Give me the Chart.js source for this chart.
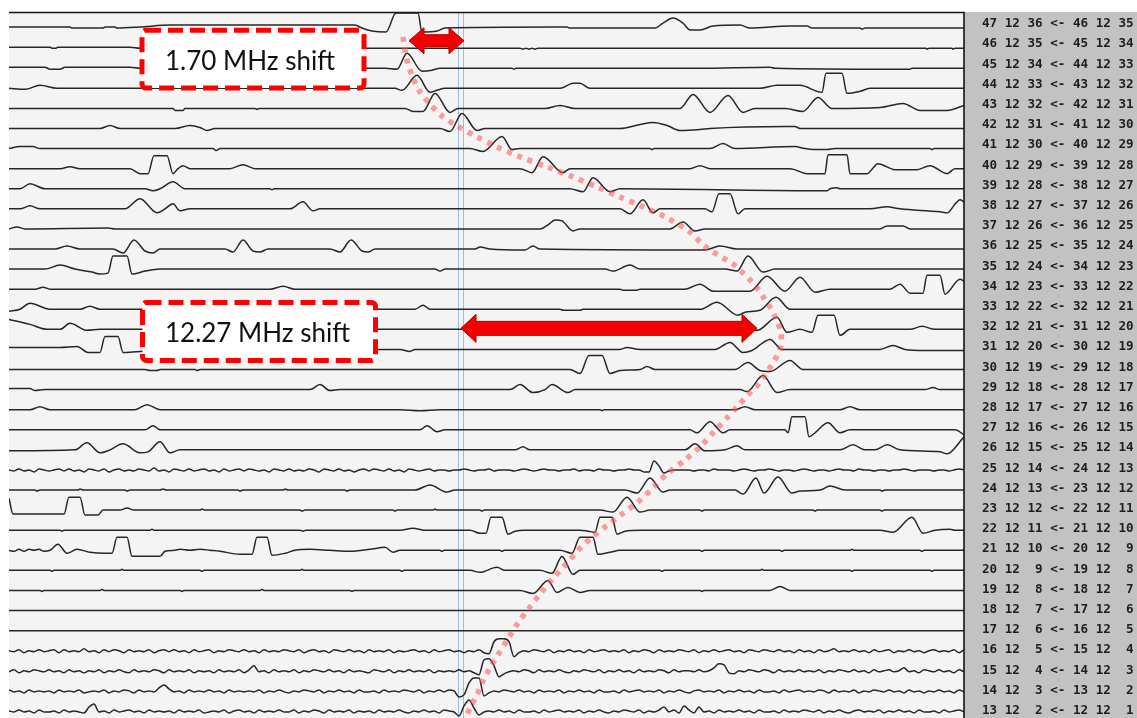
<!DOCTYPE html>
<html lang="en">
<head>
<meta charset="UTF-8">
<title>Channel shift traces</title>
<script src="https://cdn.jsdelivr.net/npm/chart.js"></script>
<style>
  html, body { margin: 0; padding: 0; background: #fff; }
  #traceChart { display: block; }
</style>
</head>
<body>
<canvas id="traceChart" width="1137" height="718"></canvas>
<script>
// channel pair shown at the right of each trace, top to bottom
const channelLabels = [
  '47 12 36 <- 46 12 35', '46 12 35 <- 45 12 34', '45 12 34 <- 44 12 33',
  '44 12 33 <- 43 12 32', '43 12 32 <- 42 12 31', '42 12 31 <- 41 12 30',
  '41 12 30 <- 40 12 29', '40 12 29 <- 39 12 28', '39 12 28 <- 38 12 27',
  '38 12 27 <- 37 12 26', '37 12 26 <- 36 12 25', '36 12 25 <- 35 12 24',
  '35 12 24 <- 34 12 23', '34 12 23 <- 33 12 22', '33 12 22 <- 32 12 21',
  '32 12 21 <- 31 12 20', '31 12 20 <- 30 12 19', '30 12 19 <- 29 12 18',
  '29 12 18 <- 28 12 17', '28 12 17 <- 27 12 16', '27 12 16 <- 26 12 15',
  '26 12 15 <- 25 12 14', '25 12 14 <- 24 12 13', '24 12 13 <- 23 12 12',
  '23 12 12 <- 22 12 11', '22 12 11 <- 21 12 10', '21 12 10 <- 20 12  9',
  '20 12  9 <- 19 12  8', '19 12  8 <- 18 12  7', '18 12  7 <- 17 12  6',
  '17 12  6 <- 16 12  5', '16 12  5 <- 15 12  4', '15 12  4 <- 14 12  3',
  '14 12  3 <- 13 12  2', '13 12  2 <- 12 12  1'
];

// trace knots "bin:amplitude" per channel (null = sampled trace below)
const traceKnots = [
  '9:1 70:1 72:0 103:0 105:1 115:1 117:0 140:1 170:3 355:3 362:0 372:-3 386:-4 396:15 418:15 422:-4 437:-3 445:0 553:1 567:1 570:0 655:0 663:5 673:10 683:5 690:-2 700:-2 713:2 740:3 750:0 790:2 807:2 812:0 860:0 862:-1 865:0 964:0',
  '9:1 50:1 52:0 56:0 58:1 130:1 140:0 520:0 523:-1 526:0 529:-1 532:0 535:-1 538:0 926:0 927:-1 929:0 952:0 953:-1 955:0 964:0',
  '9:1 45:1 50:-1 60:-1 65:1 130:1 140:0 385:0 397:-1 407:15 422:-3 432:-2 440:0 512:0 514:-1 516:0 700:0 770:1 775:0 893:-1 910:-1 912:0 964:0',
  '9:0 25:-1 40:3 57:0 130:0 395:0 402:-2 417:13 430:-4 437:-2 445:0 560:0 573:5 580:5 590:0 760:0 777:3 800:3 822:-4 826:15 842:15 847:-5 860:-3 870:0 964:0',
  '9:0 173:0 175:-2 183:-2 185:0 255:0 257:-1 259:0 405:0 413:-3 423:-3 435:15 450:-4 458:0 545:0 560:3 575:0 680:0 693:14 710:-4 728:13 743:-4 755:0 785:0 803:-3 818:11 832:0 880:1 903:5 920:-2 947:-2 964:3',
  '9:0 100:0 110:3 120:0 175:0 190:3 200:1 207:-2 215:0 440:0 450:-3 462:15 477:-2 485:0 620:0 640:4 653:6 667:3 680:-2 700:-1 710:0 787:2 795:2 800:0 964:0',
  '9:0 20:2 33:2 40:0 213:0 216:-2 220:0 470:0 483:-3 502:12 512:-1 520:0 650:0 652:-1 654:0 710:0 723:5 735:0 795:2 805:0 815:-1 827:-1 835:0 930:0 932:-1 934:0 964:0',
  '9:0 60:0 70:2 80:0 130:0 140:-5 148:-5 154:13 167:13 173:-5 178:0 183:3 190:0 230:0 243:4 255:0 520:0 532:-4 543:12 563:-4 570:0 690:0 700:3 710:0 790:0 807:-5 825:-5 828:14 847:14 850:-5 867:-5 878:5 895:-1 917:-1 930:3 947:-5 955:0 964:0',
  '9:0 20:0 30:5 45:0 145:0 153:-2 160:0 173:7 185:0 270:0 272:-1 274:0 570:0 583:-3 593:11 610:-3 620:0 815:-2 827:-2 830:0 837:1 840:0 964:0',
  '9:0 20:0 30:3 40:0 125:0 140:10 157:-4 165:0 173:5 180:-2 190:0 290:0 303:7 313:-2 320:0 620:0 630:-5 643:9 653:-4 660:0 705:0 712:-3 719:15 730:15 738:-5 745:0 870:0 887:2 900:0 940:-3 947:-4 956:6 960:9 964:7',
  '9:0 17:2 25:0 108:1 115:0 540:0 548:4 555:9 562:8 573:-2 580:0 670:0 683:7 695:-2 705:0 880:0 887:3 903:3 910:0 964:0',
  '9:0 55:0 67:3 80:0 113:0 123:-4 134:9 145:-2 153:-4 160:0 225:0 233:-3 243:9 253:-2 260:-3 268:0 330:0 340:-3 351:9 362:-2 368:-3 375:0 475:0 480:2 490:0 525:-1 533:3 540:0 705:-1 720:3 737:0 964:0',
  '9:0 45:0 60:4 75:0 92:-3 100:-5 108:-4 113:13 127:13 132:-5 145:-2 160:0 435:0 440:-2 445:0 605:0 613:-2 630:4 640:0 725:0 737:-2 748:13 763:-3 775:0 964:0',
  '9:0 35:0 43:2 50:0 270:0 283:3 295:0 620:0 623:-1 637:-1 640:0 685:0 700:5 713:-2 750:-2 767:13 785:-2 800:12 815:-3 830:0 890:0 900:5 910:-4 923:-4 927:14 940:14 945:-5 960:10 964:8',
  '9:-2 20:0 30:6 50:0 80:0 90:3 100:0 415:0 423:4 430:0 560:0 563:-1 580:-1 583:0 700:0 717:7 738:-6 745:-3 760:-1 776:12 790:0 964:0',
  '9:10 30:5 47:0 60:0 70:6 87:-1 100:0 440:0 750:0 757:-1 777:12 787:-3 800:0 812:-3 818:14 834:14 840:-6 850:0 910:0 922:3 935:0 964:0',
  '9:2 60:2 77:3 88:-3 100:-3 105:13 118:13 123:-3 140:-2 400:0 410:-2 415:0 620:0 627:2 640:0 715:0 730:7 743:-3 752:-1 770:10 782:0 880:0 893:4 905:0 925:-1 964:-1',
  '9:0 145:0 150:-1 157:-1 160:0 195:0 197:-1 200:0 570:0 580:-4 589:14 602:14 610:-4 620:-1 640:0 647:3 655:0 735:0 748:7 760:-1 770:-2 790:9 803:0 964:0',
  '9:1 30:1 35:-1 45:0 310:0 320:5 330:-1 340:0 510:0 520:5 533:-3 545:0 552:5 568:-3 575:0 740:0 747:-2 763:14 777:-3 790:0 925:0 933:2 940:0 964:0',
  '9:0 30:0 40:3 50:0 135:0 147:5 160:0 400:0 420:-1 440:0 600:0 602:-1 604:0 735:0 745:3 755:0 840:0 850:3 860:0 964:0',
  '9:0 145:0 153:4 160:0 420:0 427:4 437:-2 445:0 690:0 697:-3 710:8 723:-3 730:0 785:0 788:-3 792:13 805:13 809:-7 815:-3 828:7 840:-3 850:0 955:0 964:-5',
  '9:-1 75:0 87:7 100:-3 110:0 123:6 140:-3 148:-2 160:8 170:-3 180:0 515:0 523:3 530:0 685:0 695:6 705:-1 725:0 737:4 745:0 840:0 853:5 865:0 875:0 887:5 900:0 940:-2 947:-4 964:13',
  null,
  '9:0 35:0 37:-1 40:0 78:0 80:1 83:0 125:0 127:-1 130:0 160:0 163:1 166:0 238:0 240:-1 243:0 283:0 285:1 288:0 345:0 347:-1 350:0 415:0 430:5 447:-2 455:0 625:0 637:-3 650:12 663:-2 670:0 735:0 743:-4 756:12 764:-3 778:13 792:-3 800:-1 820:0 830:4 845:0 880:0 882:-1 885:0 964:0',
  '9:12 13:-4 64:-4 69:13 80:13 85:-5 98:-5 103:0 120:0 127:2 134:0 200:0 202:1 205:0 300:0 302:-1 305:0 393:0 395:-1 397:0 433:0 435:1 437:0 480:0 482:-1 484:0 600:0 613:-2 627:13 640:-2 650:0 700:0 702:-1 704:0 813:0 815:-1 817:0 880:0 882:-1 884:0 964:0',
  '9:0 60:0 62:-1 64:0 150:0 152:1 154:0 300:0 303:-1 306:0 400:0 413:2 425:0 470:0 480:-3 486:-3 491:13 502:13 508:-4 515:-1 525:0 580:0 588:-1 595:-2 600:13 612:13 617:-4 625:-1 640:0 880:0 893:-2 912:13 923:-3 935:0 950:1 955:0 964:0',
  '9:0 14:-1 19:1 24:-1 29:1 34:0 39:1 44:-1 50:0 58:6 67:-3 77:1 90:-2 105:-3 112:-3 117:13 127:13 132:-6 160:-6 165:-1 175:0 180:1 190:0 200:1 210:0 220:-1 240:-4 252:-4 257:13 267:13 272:-5 285:-3 295:0 310:1 330:0 350:-1 370:1 385:3 393:-2 400:0 440:0 442:-1 444:0 500:0 502:-1 504:0 560:0 572:-3 580:13 593:13 598:-4 610:-2 620:0 700:0 702:-1 704:0 780:0 782:-1 784:0 850:0 852:1 854:0 920:0 922:-1 924:0 964:0',
  '9:0 50:0 52:-1 54:0 120:0 122:1 124:0 200:0 202:-1 204:0 300:0 302:1 304:0 400:0 402:-1 404:0 470:0 480:-2 497:3 505:0 540:0 552:-3 562:14 573:-4 580:0 660:0 662:-1 664:0 760:0 762:1 764:0 850:0 852:-1 854:0 930:0 932:-1 934:0 964:0',
  '9:0 40:0 42:-1 44:0 100:0 102:1 104:0 180:0 182:-1 184:0 260:0 262:1 264:0 350:0 352:-1 354:0 520:0 533:-3 548:10 557:-2 568:3 580:-2 590:0 700:0 702:-1 704:0 770:0 780:4 790:0 964:0',
  '9:0 964:0',
  '9:0 964:0',
  null, null, null, null
];

// noisy channels, one level character every 5 bins starting at bin 9
const sampledRows = [22, 31, 32, 33, 34];
const sampledTraces = [
  '0a1a0b10 a01a1a0b 10a1b01a 0a10a2a0 b10a1a01 a0b1a01a 10a0b10a 1a0a10b1 0a1a0b01 a10a1a0b 10a01a00 a0010a00 ' +
  '1a000a01 0a0100a0 01a00a10 0a00100b b94ca000 0a00a100 0a010a00 10a00a01 0a00a010 0a100a00 a0010a00 0a00a010',
  '0a1b0a1a 01b1a0a2 a0b1a10b 1a0a1b01 a1a0b1a0 1b0a10a1 a0b1a0a1 0a1b01a0 b10a1a0b 1a0a1b0a 01a0b1a0 1a0b0a1b ' +
  'c9CC9fb0 a10a1b0a 1a0b1a01 a0a1b0a1 0b1a0a10 a1b0a1a0 1a0b10a1 0a1a0b1a 0b1a02a0 a1a0b1a0 1b0a1a0b 01a0a1b1',
  'a1b0a10a 1a0b1a0b 0a1b0a1a b1a0a10b 1a0a1b0a 0b1a0a1b 15a0b1a0 a1b0a10a 1a0b1a0a b10a1b0a 1a0a1b0a 0a1a0bdB ' +
  'C5fca0a1 0b1a0a1a b0a10a1b 0a1a0b1a 0a10b1a0 0a1a0376 bc0a10a1 0b1a0a1a 0a1b0a10 a1a0b1a0 1a03a0b1 0a1a0b1a',
  '1a0b1a0a 0b1a0a1b a0a1b0a1 0b1a0a36 2a0b1a0a 1a0b1a0a 0a1b0a1a b0a10a1b 0a1a0b1a a0b1a0a1 0a1b0a1a 10fd8DDe ' +
  'b0a10a1a 0b1a0a1b 0a1a0b1a a0b1a01a 0a1b0a1a b01a0a1b 0a1a0b1a a0b1a01a 0a10b1a0 a1b0a10a 1a0b1a0b 0a1a0b1a',
  '0a1a0b1a a0b1a0ab 47a0b1a0 1a0b1a0a 0b1a0a1b a0a1b01a 0b1a0a1a a1b0a10b 1a0a1b0a 0b1a0a1a b0a1a0b1 0ae5B3da ' +
  '0a1a0b1a a0b1a01a 0a1b0a1a b0a10a1b 0a14a1b5 1b4a0b1a 0a1a0b1a a0b1a0a1 0a1b0a1a b01a0a1b 0a1a0b1a a0b1a01a'
];

// peak track of the shifted response: bin and channel row
const shiftBins = [403, 405, 408, 413, 420, 430, 442, 457, 477, 497, 520, 547, 573, 597, 620, 643, 667, 690, 703, 713,
  723, 733, 742, 750, 757, 764, 771, 777, 781, 781, 777, 771, 765, 758, 748, 738, 727, 713, 700, 685, 667, 653, 637,
  622, 607, 592, 578, 565, 553, 541, 530, 518, 508, 498, 490, 483, 477, 470, 466];
const shiftRows = [0.44, 1.09, 1.79, 2.48, 3.18, 3.78, 4.38, 4.87, 5.42, 5.92, 6.41, 6.91, 7.41, 7.91, 8.41, 8.9, 9.45,
  10.15, 10.79, 11.14, 11.44, 11.74, 12.14, 12.54, 12.94, 13.44, 13.98, 14.58, 15.18, 15.78, 16.32, 16.82, 17.27,
  17.76, 18.26, 18.81, 19.41, 20.15, 20.85, 21.5, 22.2, 22.89, 23.64, 24.19, 24.76, 25.35, 26.0, 26.74, 27.39, 28.12,
  28.82, 29.62, 30.4, 31.2, 31.85, 32.5, 33.2, 33.84, 34.34];

// reference bins (two blue cursors)
const cursorBins = [457.5, 462.5];

const shiftArrows = [
  { from: 409, to: 464, row: 0.63, shaft: 12, head: 26, headLen: 15 },
  { from: 461, to: 757, row: 14.95, shaft: 14, head: 28, headLen: 15 }
];
const shiftNotes = [
  { x0: 142, x1: 364, r0: 0.11, r1: 2.99, tx: 250, tr: 2.09, text: '1.70 MHz shift' },
  { x0: 142.5, x1: 375.5, r0: 13.66, r1: 16.55, tx: 257.5, tr: 15.62, text: '12.27 MHz shift' }
];

const ROW_AMP = 20.1;      // amplitude units per channel row
const SAMPLE_X0 = 9;
const SAMPLE_STEP = 5;
const LEVELS = 'fedcba0123456789ABCDEFGH';   // index 6 is zero

function knotPoints(str, row) {
  return str.trim().split(/\s+/).map(tok => {
    const [x, a] = tok.split(':').map(Number);
    return { x, y: row - a / ROW_AMP };
  });
}

function sampledPoints(str, row) {
  const s = str.replace(/\s+/g, '');
  return Array.from(s, (ch, k) => ({
    x: SAMPLE_X0 + k * SAMPLE_STEP,
    y: row - (LEVELS.indexOf(ch) - 6) / ROW_AMP
  }));
}

const datasets = channelLabels.map((label, row) => {
  const si = sampledRows.indexOf(row);
  const pts = si >= 0 ? sampledPoints(sampledTraces[si], row) : knotPoints(traceKnots[row], row);
  return {
    label,
    data: pts,
    borderColor: '#262626',
    borderWidth: 1.5,
    pointRadius: 0,
    cubicInterpolationMode: 'monotone',
    order: 1
  };
});

datasets.push({
  label: 'shift',
  data: shiftBins.map((x, i) => ({ x, y: shiftRows[i] })),
  borderColor: 'rgba(255, 80, 80, 0.55)',
  borderWidth: 5.5,
  borderDash: [5, 6],
  borderCapStyle: 'butt',
  pointRadius: 0,
  tension: 0.3,
  order: 0
});

function doubleArrow(ctx, x0, x1, y, shaft, head, len) {
  const s = shaft / 2, h = head / 2;
  ctx.beginPath();
  ctx.moveTo(x0, y);
  ctx.lineTo(x0 + len, y - h);
  ctx.lineTo(x0 + len, y - s);
  ctx.lineTo(x1 - len, y - s);
  ctx.lineTo(x1 - len, y - h);
  ctx.lineTo(x1, y);
  ctx.lineTo(x1 - len, y + h);
  ctx.lineTo(x1 - len, y + s);
  ctx.lineTo(x0 + len, y + s);
  ctx.lineTo(x0 + len, y + h);
  ctx.closePath();
  ctx.fillStyle = '#f40000';
  ctx.fill();
  ctx.lineWidth = 1;
  ctx.strokeStyle = '#b00000';
  ctx.stroke();
}

const scopeDecor = {
  id: 'scopeDecor',
  beforeDraw(chart) {
    const { ctx, chartArea: a, width, height } = chart;
    ctx.save();
    ctx.fillStyle = '#ffffff';
    ctx.fillRect(0, 0, width, height);
    ctx.fillStyle = '#f4f4f4';
    ctx.fillRect(a.left, a.top, a.right - a.left, a.bottom - a.top);
    ctx.fillStyle = '#c2c2c2';
    ctx.fillRect(a.right, a.top, width - a.right, height - a.top);
    ctx.restore();
  },
  beforeDatasetsDraw(chart) {
    const { ctx, chartArea: a, scales } = chart;
    ctx.save();
    ctx.strokeStyle = '#9dbde6';
    ctx.lineWidth = 1;
    cursorBins.forEach(b => {
      const x = Math.round(scales.x.getPixelForValue(b)) + 0.5;
      ctx.beginPath();
      ctx.moveTo(x, a.top);
      ctx.lineTo(x, a.bottom);
      ctx.stroke();
    });
    ctx.restore();
  },
  afterDatasetsDraw(chart) {
    const { ctx, chartArea: a, scales } = chart;
    const px = v => scales.x.getPixelForValue(v);
    const py = v => scales.y.getPixelForValue(v);
    ctx.save();
    // frame
    ctx.strokeStyle = '#151515';
    ctx.lineWidth = 1.6;
    ctx.beginPath();
    ctx.moveTo(a.left, a.top + 0.5);
    ctx.lineTo(a.right, a.top + 0.5);
    ctx.lineTo(a.right, a.bottom);
    ctx.stroke();

    shiftArrows.forEach(ar => doubleArrow(ctx, px(ar.from), px(ar.to), py(ar.row), ar.shaft, ar.head, ar.headLen));

    shiftNotes.forEach(n => {
      const x0 = px(n.x0), x1 = px(n.x1), y0 = py(n.r0), y1 = py(n.r1);
      ctx.beginPath();
      ctx.roundRect(x0, y0, x1 - x0, y1 - y0, 4);
      ctx.fillStyle = '#ffffff';
      ctx.fill();
      ctx.setLineDash([15, 7]);
      ctx.lineWidth = 5;
      ctx.strokeStyle = '#ff0000';
      ctx.stroke();
      ctx.setLineDash([]);
      ctx.fillStyle = '#111111';
      ctx.font = '26px Lato, "Open Sans", sans-serif';
      ctx.textAlign = 'center';
      ctx.textBaseline = 'alphabetic';
      ctx.fillText(n.text, px(n.tx), py(n.tr));
    });
    ctx.restore();
  }
};

new Chart(document.getElementById('traceChart'), {
  type: 'line',
  data: { datasets },
  options: {
    responsive: false,
    animation: false,
    events: [],
    layout: { padding: { left: 9, top: 12, right: 0, bottom: 0 } },
    plugins: { legend: { display: false }, tooltip: { enabled: false } },
    scales: {
      x: { type: 'linear', min: 9, max: 964, display: false },
      y: { type: 'linear', min: -0.8, max: 34.35, reverse: true, display: false },
      channels: {
        type: 'linear',
        position: 'right',
        min: -0.594,
        max: 34.356,
        reverse: true,
        grid: { display: false, drawTicks: false },
        border: { display: false },
        afterBuildTicks: axis => { axis.ticks = channelLabels.map((_, i) => ({ value: i })); },
        afterFit: axis => {
          axis.width = 173;
          axis.paddingTop = 0;
          axis.paddingBottom = 0;
        },
        ticks: {
          autoSkip: false,
          padding: 18,
          crossAlign: 'near',
          color: '#1e1e1e',
          font: { family: '"DejaVu Sans Mono", monospace', size: 12.6, weight: 'bold' },
          callback: v => channelLabels[v]
        }
      }
    }
  },
  plugins: [scopeDecor]
});
</script>
</body>
</html>
